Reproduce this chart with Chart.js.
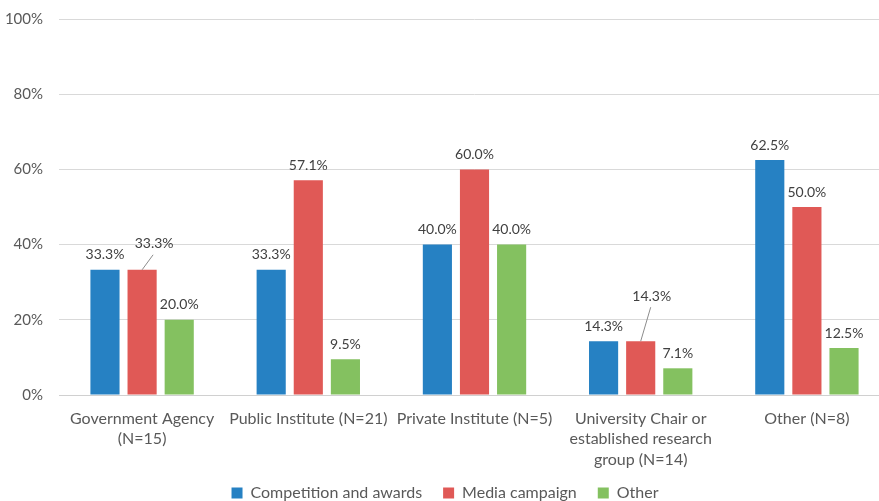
<!DOCTYPE html>
<html>
<head>
<meta charset="utf-8">
<script src="https://cdn.jsdelivr.net/npm/chart.js@4"></script>
<style>
  html, body { margin: 0; padding: 0; background: #fff; overflow: hidden; }
  #wrap { width: 890px; height: 511px; position: relative; }
</style>
</head>
<body>
<div id="wrap"><canvas id="grafico"></canvas></div>
<script>
// datos
const categorias = [
    ['Government Agency', '(N=15)'],
    'Public Institute (N=21)',
    'Private Institute (N=5)',
    ['University Chair or', 'established research', 'group (N=14)'],
    'Other (N=8)'
];
const competicion = [33.3, 33.3, 40.0, 14.3, 62.5];
const medios = [33.3, 57.1, 60.0, 14.3, 50.0];
const otros = [20.0, 9.5, 40.0, 7.1, 12.5];
const ticksY = [0, 20, 40, 60, 80, 100];

const fuente = 'Lato, "Open Sans", sans-serif';

// etiquetas desplazadas a mano (dataset, indice) -> dx, dy
const desplazadas = {
    '1-0': { dx: 12, dy: -11 },
    '1-3': { dx: 11, dy: -30 }
};

const etiquetasPlugin = {
    id: 'etiquetas',
    afterDatasetsDraw(chart) {
        const ctx = chart.ctx;
        ctx.save();
        ctx.font = '14px ' + fuente;
        ctx.fillStyle = '#404040';
        ctx.textAlign = 'center';
        ctx.textBaseline = 'middle';
        chart.data.datasets.forEach((ds, d) => {
            chart.getDatasetMeta(d).data.forEach((bar, i) => {
                const off = desplazadas[d + '-' + i] || { dx: 0, dy: 0 };
                const x = bar.x + off.dx;
                const y = bar.y - 15 + off.dy;
                if (off.dx || off.dy) {
                    ctx.strokeStyle = '#8c8c8c';
                    ctx.lineWidth = 1;
                    ctx.beginPath();
                    ctx.moveTo(bar.x, bar.y);
                    ctx.lineTo(x - 1, y + 11);
                    ctx.stroke();
                }
                ctx.fillText(ds.data[i].toFixed(1) + '%', x, y);
            });
        });
        ctx.restore();
    }
};

new Chart(document.getElementById('grafico'), {
    type: 'bar',
    data: {
        labels: categorias,
        datasets: [
            { label: 'Competition and awards', data: competicion, backgroundColor: '#2681C3' },
            { label: 'Media campaign', data: medios, backgroundColor: '#E05956' },
            { label: 'Other', data: otros, backgroundColor: '#84C160' }
        ]
    },
    options: {
        responsive: true,
        maintainAspectRatio: false,
        animation: false,
        categoryPercentage: 0.67,
        barPercentage: 0.785,
        layout: { padding: { top: 19, left: 0, right: 0, bottom: 0 } },
        plugins: {
            legend: {
                position: 'bottom',
                labels: {
                    boxWidth: 11,
                    boxHeight: 11,
                    color: '#595959',
                    padding: 21,
                    font: { family: fuente, size: 16 }
                }
            },
            tooltip: { enabled: false }
        },
        scales: {
            x: {
                grid: { display: false },
                border: { color: '#d0d0d0' },
                afterFit: axis => {
                    axis.height = 69;
                    // que no recorte la tercera linea de la etiqueta
                    axis._computeLabelArea = () => undefined;
                },
                ticks: {
                    color: '#595959',
                    font: { family: fuente, size: 16, lineHeight: 1.3 },
                    maxRotation: 0,
                    autoSkip: false,
                    padding: 5
                }
            },
            y: {
                min: 0,
                max: 100,
                afterBuildTicks: axis => { axis.ticks = ticksY.map(v => ({ value: v })); },
                afterFit: axis => {
                    axis.width = 59;
                    axis.paddingTop = 0;
                    axis.paddingBottom = 0;
                },
                grid: { color: '#d9d9d9', drawTicks: false },
                border: { display: false },
                ticks: {
                    color: '#595959',
                    font: { family: fuente, size: 15 },
                    padding: 16,
                    callback: v => v + '%'
                }
            }
        }
    },
    plugins: [etiquetasPlugin]
});
</script>
</body>
</html>
